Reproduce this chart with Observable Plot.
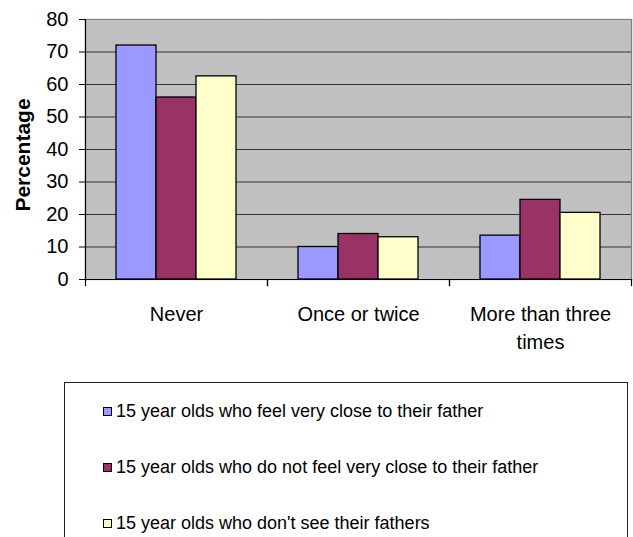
<!DOCTYPE html>
<html>
<head>
<meta charset="utf-8">
<script src="https://cdn.jsdelivr.net/npm/d3@7"></script>
<script src="https://cdn.jsdelivr.net/npm/@observablehq/plot@0.6"></script>
<style>
  html, body { margin: 0; padding: 0; background: #fff; }
  body { width: 633px; height: 537px; position: relative; overflow: hidden; font-family: "Liberation Sans", Arial, sans-serif; }
  #legend { position: absolute; left: 64px; top: 382px; width: 564px; height: 180px; border: 1px solid #222; box-sizing: border-box; }
  .item { position: absolute; left: 38px; font-size: 18px; color: #000; display: flex; align-items: center; white-space: nowrap; }
  .sw { width: 7px; height: 7px; border: 1px solid #000; margin-right: 4px; }
</style>
</head>
<body>
<div id="chart"></div>
<div id="legend"></div>
<script>
const categories = ["Never", "Once or twice", "More than three times"];
const series = [
  "15 year olds who feel very close to their father",
  "15 year olds who do not feel very close to their father",
  "15 year olds who don't see their fathers"
];
const veryClose = [72, 10, 13.5];
const notClose = [56, 14, 24.5];
const dontSee = [62.5, 13, 20.5];
const yTicks = [0, 10, 20, 30, 40, 50, 60, 70, 80];
const colors = ["#9999FF", "#993366", "#FFFFCC"];

const seriesValues = [veryClose, notClose, dontSee];
const data = categories.flatMap((c, i) => series.map((s, j) => ({category: c, series: s, value: seriesValues[j][i]})));

const chart = Plot.plot({
  width: 633,
  height: 370,
  marginLeft: 84,
  marginRight: 1,
  marginTop: 19,
  marginBottom: 91,
  style: {fontFamily: "'Liberation Sans', Arial, sans-serif", background: "white", color: "black"},
  fx: {domain: categories, paddingInner: 0, paddingOuter: 0, label: null},
  x: {domain: series, paddingInner: 0, paddingOuter: 0.75, axis: null},
  y: {domain: [0, 80], axis: null},
  color: {domain: series, range: colors},
  marks: [
    Plot.frame({fill: "#c0c0c0", stroke: "#c0c0c0", strokeWidth: 1.5}),
    Plot.gridY(yTicks.filter(t => t > 0 && t < 80), {stroke: "#333", strokeOpacity: 1, strokeWidth: 1}),
    Plot.barY(data, {fx: "category", x: "series", y: "value", fill: "series", stroke: "black", strokeWidth: 1.3}),
    Plot.frame({anchor: "top", stroke: "#808080", strokeWidth: 1.2}),
    Plot.frame({anchor: "right", stroke: "#808080", strokeWidth: 1.2, facetAnchor: "right"}),
    Plot.frame({anchor: "left", stroke: "black", strokeWidth: 1.2, facetAnchor: "left"}),
    Plot.frame({anchor: "bottom", stroke: "black", strokeWidth: 1.2}),
    Plot.frame({anchor: "left", stroke: "black", strokeWidth: 1.2, insetTop: 260, insetBottom: -6}),
    Plot.frame({anchor: "right", stroke: "black", strokeWidth: 1.2, insetTop: 260, insetBottom: -6}),
    Plot.axisY({ticks: yTicks, tickSize: 6, tickPadding: 11, fontSize: 20, label: null, tickFormat: d => String(d)}),
    Plot.text(["Percentage"], {fx: () => categories[0], text: d => d, frameAnchor: "left", textAnchor: "middle", dx: -62, dy: 5.5, rotate: -90, fontSize: 21, fontWeight: "bold"}),
    Plot.axisFx({anchor: "bottom", tickSize: 0, tickPadding: 22, fontSize: 20, lineHeight: 1.4, label: null,
      tickFormat: d => d === "More than three times" ? "More than three\ntimes" : d})
  ]
});
document.getElementById("chart").appendChild(chart);

const legend = document.getElementById("legend");
series.forEach((s, i) => {
  const item = document.createElement("div");
  item.className = "item";
  item.style.top = (18 + i * 56) + "px";
  const sw = document.createElement("span");
  sw.className = "sw";
  sw.style.background = colors[i];
  const t = document.createElement("span");
  t.textContent = s;
  item.appendChild(sw);
  item.appendChild(t);
  legend.appendChild(item);
});
</script>
</body>
</html>
